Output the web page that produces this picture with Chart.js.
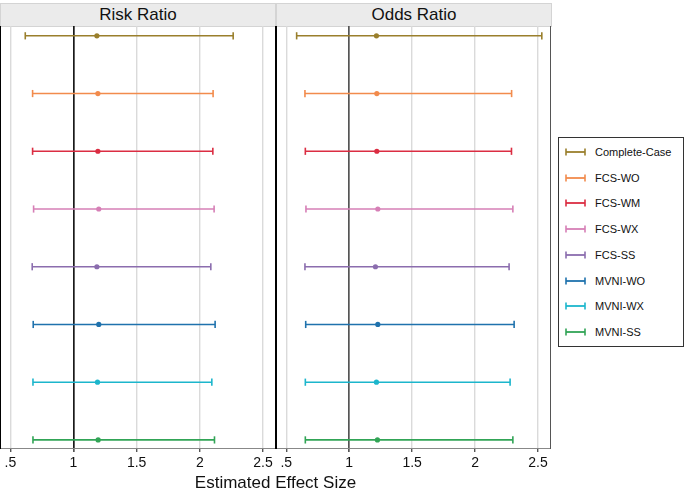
<!DOCTYPE html>
<html>
<head>
<meta charset="utf-8">
<script src="https://cdn.jsdelivr.net/npm/chart.js@4"></script>
<style>
  body { margin: 0; background: #fff; font-family: 'Liberation Sans', Arial, sans-serif; }
  #page { position: relative; width: 685px; height: 491px; overflow: hidden; }
  canvas { position: absolute; }
  .strip { position: absolute; top: 3px; height: 22px; background: #ebebeb; border: 1px solid #d4d4d4;
           font-size: 17px; line-height: 22px; text-align: center; color: #111; }
  #xtitle { position: absolute; left: 0; width: 551px; top: 473px; text-align: center; font-size: 17px; color: #111; }
  #legend { position: absolute; left: 558px; top: 137px; width: 124px; height: 208px; border: 1px solid #333; }
  .item { position: absolute; left: 6px; height: 14px; font-size: 11px; line-height: 14px; color: #111; }
  .item svg { position: absolute; left: 0; top: 3px; }
  .item span { position: absolute; left: 30px; white-space: nowrap; }
</style>
</head>
<body>
<div id="page">
  <div class="strip" style="left:0;width:274px">Risk Ratio</div>
  <div class="strip" style="left:276px;width:274px">Odds Ratio</div>
  <canvas id="rr" width="276" height="452" style="left:0;top:26px"></canvas>
  <canvas id="or" width="275" height="452" style="left:276px;top:26px"></canvas>
  <div id="xtitle">Estimated Effect Size</div>
  <div id="legend"></div>
</div>
<script>
const methods = ['Complete-Case', 'FCS-WO', 'FCS-WM', 'FCS-WX', 'FCS-SS', 'MVNI-WO', 'MVNI-WX', 'MVNI-SS'];
const colors = ['#9a7f2c', '#f28b4c', '#db2d42', '#d67fb6', '#8b6dae', '#1f72ad', '#1cb6cc', '#31a456'];

// risk ratio: point estimate, lower and upper limits
const rrEst = [1.185, 1.193, 1.193, 1.200, 1.185, 1.200, 1.190, 1.195];
const rrLo  = [0.618, 0.676, 0.676, 0.684, 0.673, 0.681, 0.679, 0.679];
const rrHi  = [2.264, 2.105, 2.103, 2.113, 2.087, 2.121, 2.095, 2.116];

// odds ratio
const orEst = [1.216, 1.219, 1.219, 1.227, 1.208, 1.227, 1.216, 1.224];
const orLo  = [0.582, 0.648, 0.651, 0.656, 0.648, 0.654, 0.651, 0.651];
const orHi  = [2.530, 2.290, 2.289, 2.300, 2.270, 2.310, 2.278, 2.300];

const xTicks = [0.5, 1, 1.5, 2, 2.5];

function makeDatasets(est, lo, hi) {
  const sets = [];
  methods.forEach((m, i) => {
    sets.push({
      type: 'line',
      label: m,
      data: [{ x: lo[i], y: i }, { x: hi[i], y: i }],
      borderColor: colors[i],
      borderWidth: 1.6,
      pointStyle: 'line',
      rotation: 90,
      pointRadius: 3.6,
      pointBorderWidth: 1.6,
      pointBorderColor: colors[i],
      clip: false
    });
    sets.push({
      type: 'scatter',
      label: m + ' est',
      data: [{ x: est[i], y: i }],
      pointRadius: 2.6,
      pointBackgroundColor: colors[i],
      pointBorderColor: colors[i],
      pointBorderWidth: 0
    });
  });
  return sets;
}

function makePanel(id, est, lo, hi, refColor, rightColor) {
  const scales = {
    x: {
      type: 'linear',
      min: 0.418,
      max: 2.603,
      afterBuildTicks: s => { s.ticks = xTicks.map(v => ({ value: v })); },
      afterFit: s => { s.height = 30; },
      ticks: {
        color: '#111',
        font: { family: "'Liberation Sans', Arial, sans-serif", size: 14 },
        padding: 3,
        maxRotation: 0,
        autoSkip: false,
        callback: v => String(v).replace(/^0\./, '.')
      },
      grid: {
        color: c => (c.tick && c.tick.value === 1 ? refColor : '#dadada'),
        lineWidth: c => (c.tick && c.tick.value === 1 ? 1.7 : 1.4),
        tickColor: '#555',
        tickLength: 4
      },
      border: { color: '#888', width: 1 }
    },
    y: {
      type: 'linear',
      reverse: true,
      min: -0.17,
      max: 7.14,
      afterFit: s => { s.width = 0; },
      ticks: { display: false },
      grid: { display: false, drawTicks: false },
      border: { color: '#000', width: 2 }
    },
    y2: {
      type: 'linear',
      position: 'right',
      min: 0, max: 1,
      afterFit: s => { s.width = 0; },
      ticks: { display: false },
      grid: { display: false, drawTicks: false },
      border: { color: rightColor, width: 2 }
    }
  };
  new Chart(document.getElementById(id), {
    type: 'line',
    data: { datasets: makeDatasets(est, lo, hi) },
    options: {
      responsive: false,
      animation: false,
      layout: { padding: 0, autoPadding: false },
      plugins: { legend: { display: false }, tooltip: { enabled: false } },
      scales: scales
    }
  });
}

makePanel('rr', rrEst, rrLo, rrHi, '#1a1a1a', '#000');
makePanel('or', orEst, orLo, orHi, '#555', '#555');

// legend
const legend = document.getElementById('legend');
methods.forEach((m, i) => {
  const d = document.createElement('div');
  d.className = 'item';
  d.style.top = (7 + i * 25.7) + 'px';
  d.innerHTML = '<svg width="22" height="8"><line x1="1" y1="4" x2="20" y2="4" stroke="' + colors[i] +
    '" stroke-width="1.8"/><line x1="1" y1="0.5" x2="1" y2="7.5" stroke="' + colors[i] +
    '" stroke-width="1.6"/><line x1="20" y1="0.5" x2="20" y2="7.5" stroke="' + colors[i] +
    '" stroke-width="1.6"/></svg><span>' + m + '</span>';
  legend.appendChild(d);
});
</script>
</body>
</html>
